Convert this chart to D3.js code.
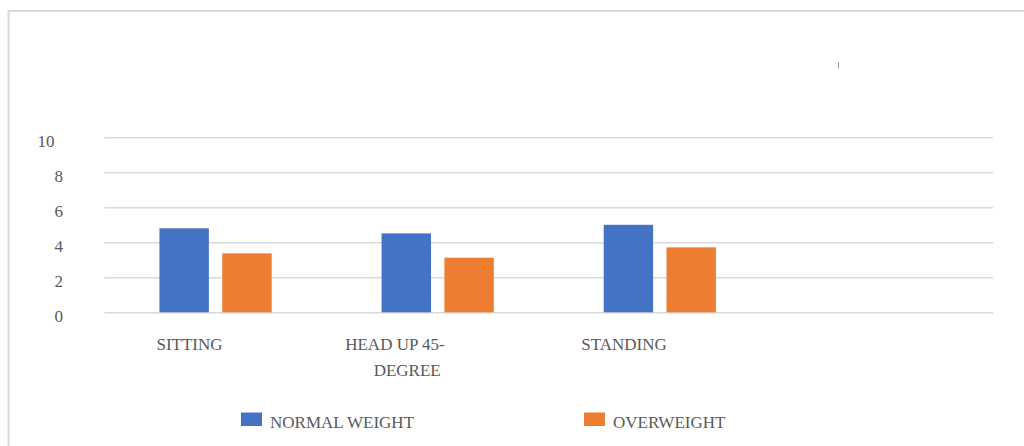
<!DOCTYPE html>
<html>
<head>
<meta charset="utf-8">
<script src="https://cdn.jsdelivr.net/npm/d3@7"></script>
<style>
  html, body { margin: 0; padding: 0; background: #fff; }
  svg { display: block; }
  text { font-family: "Liberation Serif", "Times New Roman", serif; fill: #595959; }
</style>
</head>
<body>
<svg id="chart" width="1024" height="446"></svg>
<script>
// Positions (the fourth slot is left empty on the axis)
const categories = ["SITTING", "HEAD UP 45-\nDEGREE", "STANDING", ""];
const seriesNames = ["NORMAL WEIGHT", "OVERWEIGHT"];
const normalWeight = [4.8, 4.51, 5.0];
const overweight = [3.37, 3.12, 3.71];
const yTicks = [0, 2, 4, 6, 8, 10];
const colors = ["#4472C4", "#ED7D31"];

const svg = d3.select("#chart");

// Outer frame (left and top edges visible)
svg.append("path")
  .attr("d", "M8.5,446 L8.5,11 L1024,11")
  .attr("fill", "none")
  .attr("stroke", "#d9d9d9")
  .attr("stroke-width", 2);

// Small stray mark in the upper right
svg.append("line")
  .attr("x1", 838.5).attr("x2", 838.5)
  .attr("y1", 62).attr("y2", 68.5)
  .attr("stroke", "#9a9a9a").attr("stroke-width", 1);

const plotLeft = 104.5, plotRight = 993;
const x0 = d3.scaleBand().domain(categories).range([plotLeft, plotRight]).padding(0);
const x1 = d3.scaleBand().domain(seriesNames).range([0, x0.bandwidth()])
  .paddingInner(0.213).paddingOuter(0.875);
const y = d3.scaleLinear().domain([0, 10]).range([312.3, 137.3]);

// Horizontal gridlines
const grid = svg.append("g")
  .attr("transform", `translate(${plotLeft},0)`)
  .call(d3.axisLeft(y).tickValues(yTicks).tickSize(-(plotRight - plotLeft)).tickFormat(""));
grid.select(".domain").remove();
grid.selectAll(".tick line").attr("stroke", "#d9d9d9").attr("stroke-width", 1.6);

// Y tick labels
svg.append("g").selectAll("text")
  .data(yTicks)
  .join("text")
  .attr("x", d => d >= 10 ? 54.5 : 63)
  .attr("y", d => y(d) + 9.5)
  .attr("text-anchor", "end")
  .attr("font-size", 17)
  .text(d => d);

// Bars
const rows = categories.slice(0, normalWeight.length).map((c, i) => ({
  category: c,
  values: [
    { key: seriesNames[0], value: normalWeight[i], color: colors[0] },
    { key: seriesNames[1], value: overweight[i], color: colors[1] }
  ]
}));

const groups = svg.append("g").selectAll("g")
  .data(rows)
  .join("g")
  .attr("transform", d => `translate(${x0(d.category)},0)`);

groups.selectAll("rect")
  .data(d => d.values)
  .join("rect")
  .attr("x", d => x1(d.key))
  .attr("width", x1.bandwidth())
  .attr("y", d => y(d.value))
  .attr("height", d => y(0) - y(d.value))
  .attr("fill", d => d.color);

// Category labels
const catLabels = svg.append("g").selectAll("text")
  .data(categories.filter(c => c !== ""))
  .join("text")
  .attr("text-anchor", "end")
  .attr("font-size", 17)
  .attr("y", 350);

catLabels.each(function (d) {
  const t = d3.select(this);
  const xr = x0(d) + x0.bandwidth() / 2 + 7;
  d.split("\n").forEach((line, i) => {
    t.append("tspan")
      .attr("x", i === 0 ? xr : xr - 4)
      .attr("dy", i === 0 ? 0 : 26)
      .text(line);
  });
});

// Legend
const legendX = [241, 584];
const legend = svg.append("g").selectAll("g")
  .data(seriesNames)
  .join("g")
  .attr("transform", (d, i) => `translate(${legendX[i]},412.5)`);

legend.append("rect")
  .attr("width", 21).attr("height", 13.5)
  .attr("fill", (d, i) => colors[i]);

legend.append("text")
  .attr("x", 29).attr("y", 15)
  .attr("font-size", 17)
  .text(d => d);
</script>
</body>
</html>
